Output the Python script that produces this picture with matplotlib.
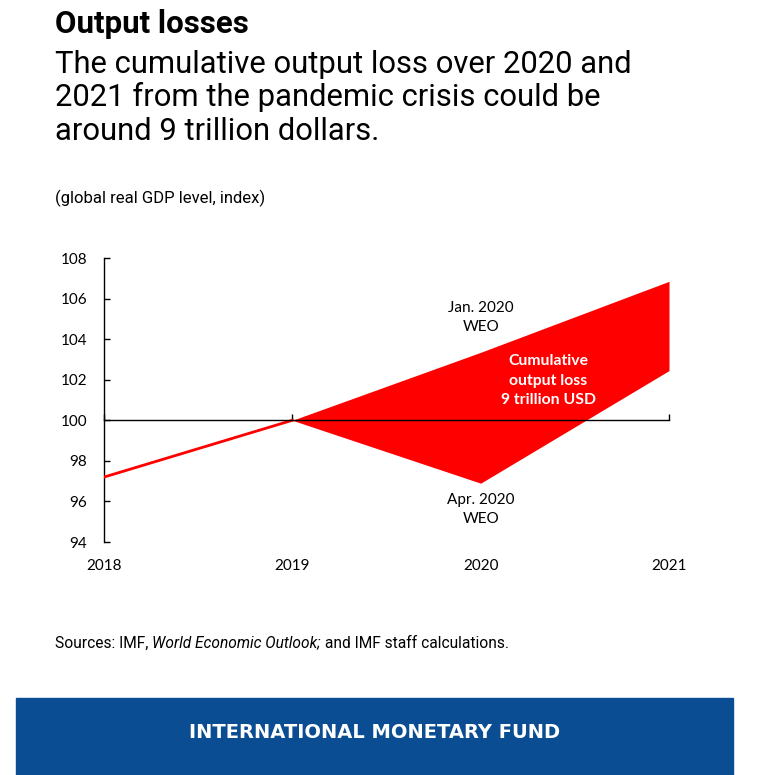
import matplotlib.pyplot as plt
from matplotlib.patches import Rectangle

# data
years = [2018, 2019, 2020, 2021]
pre_crisis = [97.2, 100.0]          # 2018-2019
jan_weo = [100.0, 103.35, 106.85]   # 2019-2021
apr_weo = [100.0, 96.9, 102.45]     # 2019-2021
yticks = [94, 96, 98, 100, 102, 104, 106, 108]

subtitle = ['The cumulative output loss over 2020 and',
            '2021 from the pandemic crisis could be',
            'around 9 trillion dollars.']

RED = '#FF0000'
BLUE = '#0B4D92'
chart_font = ['Lato', 'DejaVu Sans']

fig = plt.figure(figsize=(7.75, 7.75), dpi=100)
fig.patch.set_facecolor('white')

# headings
fig.text(55/775, 1 - 33/775, 'Output losses', family='Roboto', weight='bold',
         fontsize=22.5, va='baseline', ha='left')
for i, line in enumerate(subtitle):
    fig.text(55/775, 1 - (73 + 33.5 * i)/775, line, family='Roboto',
             fontsize=22.3, va='baseline', ha='left')
fig.text(55/775, 1 - 198/775, '(global real GDP level, index)', family='Roboto',
         fontsize=12, va='center', ha='left')

# chart
ax = fig.add_axes([104/775, 1 - 542/775, (669 - 104)/775, (542 - 258)/775])
ax.set_xlim(2018, 2021)
ax.set_ylim(94, 108)

ax.fill_between(years[1:], jan_weo, apr_weo, color=RED, lw=0, zorder=2)
ax.plot(years[:2], pre_crisis, color=RED, lw=2, zorder=3)

ax.spines['top'].set_visible(False)
ax.spines['right'].set_visible(False)
ax.spines['left'].set_linewidth(1)
ax.spines['bottom'].set_position(('data', 100))
ax.spines['bottom'].set_linewidth(1)
ax.spines['bottom'].set_zorder(4)

ax.set_yticks(yticks)
ax.set_xticks(years)
ax.tick_params(axis='y', direction='in', length=4, width=1, labelsize=11, pad=12)
ax.tick_params(axis='x', direction='in', length=4, width=1, labelbottom=False)
for lab in ax.get_yticklabels():
    lab.set_family(chart_font)

# year labels along the bottom of the plot
sec = ax.secondary_xaxis(0)
sec.set_xticks(years)
sec.spines['bottom'].set_visible(False)
sec.tick_params(length=0, labelsize=11, pad=12)
for lab in sec.get_xticklabels():
    lab.set_family(chart_font)

ax.text(2020, 105.05, 'Jan. 2020\nWEO', ha='center', va='center', fontsize=11,
        family=chart_font, linespacing=1.45)
ax.text(2020, 95.6, 'Apr. 2020\nWEO', ha='center', va='center', fontsize=11,
        family=chart_font, linespacing=1.45)
ax.text(2020.36, 101.95, 'Cumulative\noutput loss\n9 trillion USD', ha='center',
        va='center', fontsize=11.3, weight='bold', color='white', family=chart_font,
        linespacing=1.5, zorder=5)

# sources line with italic title
ys = 1 - 643/775
t1 = fig.text(55/775, ys, 'Sources: IMF, ', family='Roboto', fontsize=11.2,
              va='center', ha='left')
t2 = fig.text(0, ys, 'World Economic Outlook;', family='Roboto', style='italic',
              fontsize=11.2, va='center', ha='left')
fig.canvas.draw()
r = fig.canvas.get_renderer()
bb = t1.get_window_extent(r).transformed(fig.transFigure.inverted())
t2.set_x(bb.x1)
fig.canvas.draw()
bb2 = t2.get_window_extent(r).transformed(fig.transFigure.inverted())
fig.text(bb2.x1, ys, ' and IMF staff calculations.', family='Roboto',
         fontsize=11.2, va='center', ha='left')

# footer banner
fig.patches.append(Rectangle((16/775, 0), (733 - 16)/775, 77/775,
                             transform=fig.transFigure, color=BLUE, zorder=0))
fig.text(375/775, 1 - 733/775, 'INTERNATIONAL MONETARY FUND', color='white',
         family='DejaVu Sans', weight='bold', fontsize=14,
         ha='center', va='center')

fig.savefig('out.png', dpi=100)
